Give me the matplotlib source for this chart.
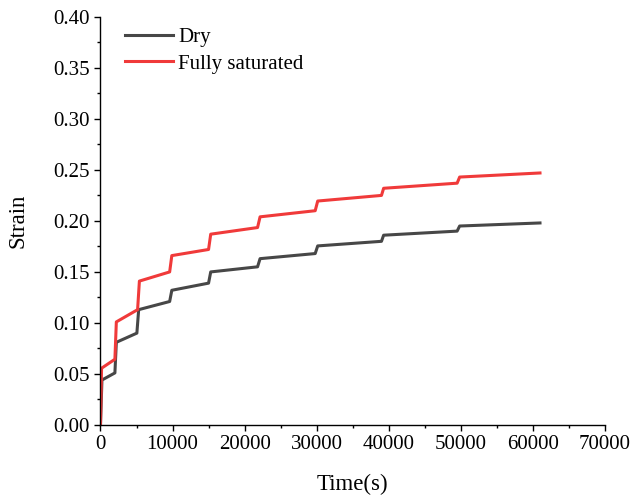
import matplotlib.pyplot as plt
from matplotlib.ticker import MultipleLocator

plt.rcParams['font.family'] = ['Liberation Serif', 'DejaVu Serif']

# Dry specimen
dry_time = [0, 200, 2000, 2200, 5050, 5300, 9600, 9900, 15000, 15300, 21800, 22150,
            29800, 30150, 39000, 39300, 49500, 49850, 61000]
dry_strain = [0, 0.044, 0.051, 0.081, 0.090, 0.113, 0.121, 0.132, 0.139, 0.150, 0.155, 0.163,
              0.168, 0.1755, 0.180, 0.186, 0.190, 0.195, 0.198]

# Fully saturated specimen
sat_time = [0, 150, 2000, 2200, 5150, 5400, 9600, 9900, 15000, 15300, 21800, 22150,
            29800, 30150, 39000, 39300, 49500, 49850, 61000]
sat_strain = [0, 0.0556, 0.0644, 0.101, 0.113, 0.141, 0.150, 0.166, 0.172, 0.187, 0.1935, 0.204,
              0.210, 0.2195, 0.225, 0.232, 0.237, 0.243, 0.247]

fig = plt.figure(figsize=(6.32, 4.97), dpi=100)
ax = fig.add_axes([0.159, 0.145, 0.798, 0.821])

ax.plot(dry_time, dry_strain, color='#474747', lw=2.2, label='Dry')
ax.plot(sat_time, sat_strain, color='#f03a3a', lw=2.2, label='Fully saturated')

ax.set_xlim(0, 70000)
ax.set_ylim(0, 0.40)
ax.xaxis.set_major_locator(MultipleLocator(10000))
ax.xaxis.set_minor_locator(MultipleLocator(5000))
ax.yaxis.set_major_locator(MultipleLocator(0.05))
ax.yaxis.set_minor_locator(MultipleLocator(0.025))
ax.yaxis.set_major_formatter(plt.FormatStrFormatter('%.2f'))

for s in ['top', 'right']:
    ax.spines[s].set_visible(False)
for s in ['left', 'bottom']:
    ax.spines[s].set_linewidth(1.0)

ax.tick_params(which='major', direction='out', length=4.5, width=1, labelsize=15, pad=3)
ax.tick_params(which='minor', direction='out', length=2.5, width=1)

ax.set_xlabel('Time(s)', fontsize=16.5, labelpad=14)
ax.set_ylabel('Strain', fontsize=16.5, labelpad=18)

ax.legend(loc='upper left', frameon=False, fontsize=15, handlelength=2.3,
          handletextpad=0.25, labelspacing=0.35, borderaxespad=0.0,
          bbox_to_anchor=(0.032, 0.995))

fig.savefig('out.png', dpi=100)
